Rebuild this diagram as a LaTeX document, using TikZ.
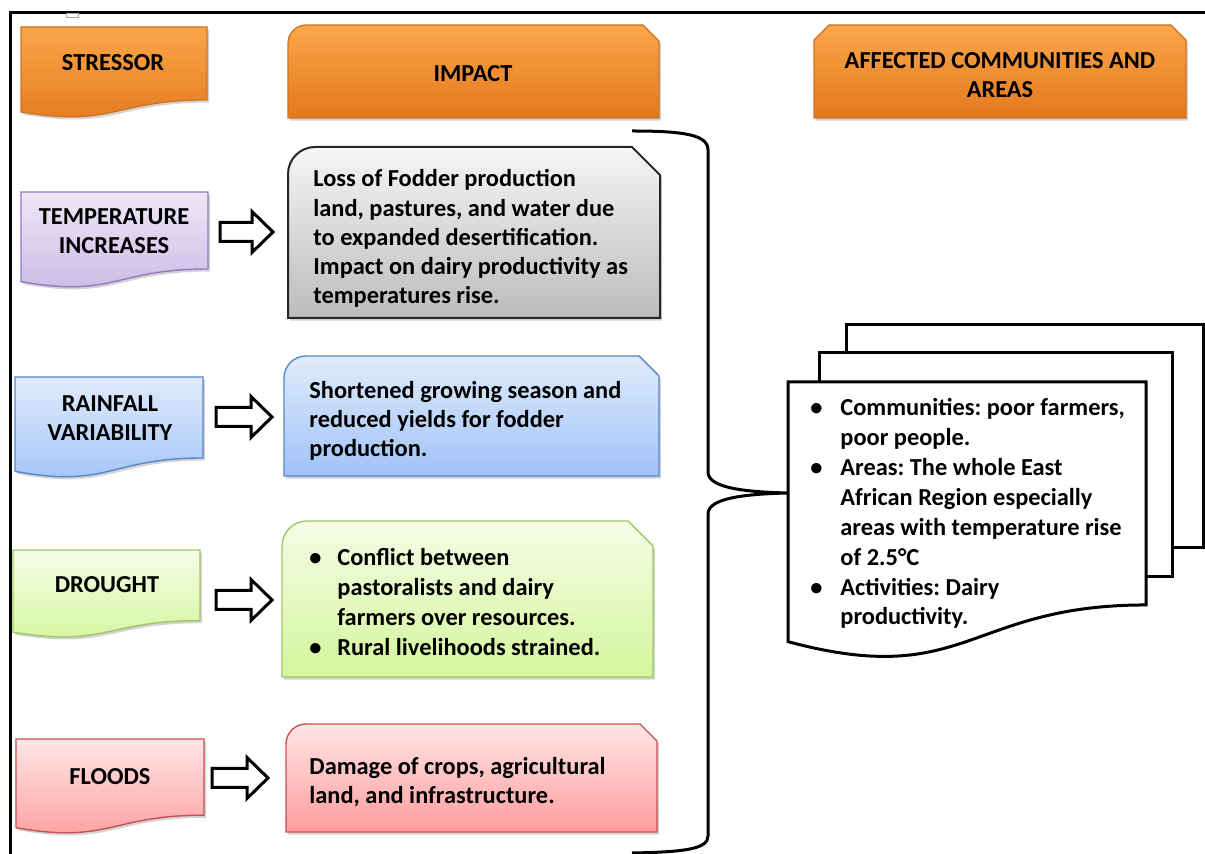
\documentclass[tikz,border=0pt]{standalone}
\usepackage{fontspec}
\setmainfont{Carlito}
\usetikzlibrary{shadows}
\frenchspacing

% fills and outlines
\definecolor{hdrTop}{RGB}{251,166,74}
\definecolor{hdrBot}{RGB}{228,120,28}
\definecolor{hdrLine}{RGB}{205,115,40}
\definecolor{purTop}{RGB}{238,232,247}
\definecolor{purBot}{RGB}{200,184,228}
\definecolor{purLine}{RGB}{150,120,190}
\definecolor{bluTop}{RGB}{224,236,252}
\definecolor{bluBot}{RGB}{160,194,248}
\definecolor{bluLine}{RGB}{85,135,205}
\definecolor{grnTop}{RGB}{245,252,230}
\definecolor{grnBot}{RGB}{212,246,156}
\definecolor{grnLine}{RGB}{160,200,100}
\definecolor{redTop}{RGB}{255,230,230}
\definecolor{redBot}{RGB}{255,156,156}
\definecolor{redLine}{RGB}{200,80,80}
\definecolor{gryTop}{RGB}{245,245,245}
\definecolor{gryBot}{RGB}{188,188,188}

% wavy-bottom document outline: left, top, right, nominal height, style
\newcommand\docshape[5]{%
  \shadedraw[#5] (#1,#2) -- (#3,#2) -- (#3,{#2+0.802*#4})
    .. controls ({(#1+#3)/2},{#2+0.802*#4}) and ({(#1+#3)/2},{#2+1.107*#4})
    .. (#1,{#2+0.934*#4}) -- cycle;}
% box with rounded top-left and snipped top-right corner
\newcommand\impshape[7]{%
  \shadedraw[#7] (#1,#4) -- (#1,{#2+#5})
    .. controls (#1,{#2+0.45*#5}) and ({#1+0.45*#5},#2) .. ({#1+#5},#2)
    -- ({#3-#6},#2) -- (#3,{#2+#6}) -- (#3,#4) -- cycle;}
% hollow block arrow: left x, tip x, centre y
\newcommand\blockarrow[3]{%
  \draw[blkarrow] (#1,{#3-9.5}) -- ({#2-21},{#3-9.5}) -- ({#2-21},{#3-20.5})
    -- (#2,#3) -- ({#2-21},{#3+20.5}) -- ({#2-21},{#3+9.5}) -- (#1,{#3+9.5}) -- cycle;}

\begin{document}
\begin{tikzpicture}[x=0.5pt,y=-0.5pt,
  shd/.style={drop shadow={shadow xshift=1pt,shadow yshift=-1.3pt,opacity=0.35}},
  hdr/.style={top color=hdrTop,bottom color=hdrBot,draw=hdrLine,line width=0.6pt,shd},
  pur/.style={top color=purTop,bottom color=purBot,draw=purLine,line width=0.7pt,shd},
  blu/.style={top color=bluTop,bottom color=bluBot,draw=bluLine,line width=0.7pt,shd},
  grn/.style={top color=grnTop,bottom color=grnBot,draw=grnLine,line width=0.7pt,shd},
  red/.style={top color=redTop,bottom color=redBot,draw=redLine,line width=0.7pt,shd},
  gry/.style={top color=gryTop,bottom color=gryBot,draw=black!85,line width=1pt,shd},
  blkarrow/.style={draw=black,fill=white,line width=1.5pt,line join=miter},
  % multi-line nodes are placed by the baseline of their last line
  txt/.style={font=\fontsize{12.2}{14.65}\selectfont\bfseries,inner sep=0pt,align=left,anchor=base west},
  ctxt/.style={font=\fontsize{12.2}{14.9}\selectfont\bfseries,inner sep=0pt,align=center,anchor=base},
  pagedoc/.style={draw=black,top color=white,bottom color=white,line width=1.5pt,line join=miter},
  brace/.style={draw=black,line width=1.5pt}]
\useasboundingbox (0,0) rectangle (1205,854);

% outer frame
\draw[line width=1.5pt] (10,856) -- (10,13) -- (1207,13);
\draw[black!35,line width=0.4pt] (66,13) rectangle (78,17);

% column headers
\docshape{21}{27}{207}{91}{hdr}
\node[ctxt] (hStress) at (113,71) {STRESSOR};
\impshape{288}{25}{659}{118}{18}{16}{hdr}
\node[ctxt] (hImpact) at (473,82) {IMPACT};
\shadedraw[hdr] (814,118) -- (814,40) -- (829,25) -- (1171,25) -- (1186,40) -- (1186,118) -- cycle;
\node[ctxt] (hAffect) at (1000,98) {AFFECTED COMMUNITIES AND\\AREAS};

% stressors
\docshape{21}{192}{208}{96}{pur}
\node[ctxt] (sTemp) at (114,254) {TEMPERATURE\\INCREASES};
\docshape{15}{377}{203}{101}{blu}
\node[ctxt] (sRain) at (110,441) {RAINFALL\\VARIABILITY};
\docshape{13}{550}{200}{88}{grn}
\node[ctxt] (sDrought) at (107,593) {DROUGHT};
\docshape{16}{739}{204}{95}{red}
\node[ctxt] (sFlood) at (110,785) {FLOODS};

% arrows from stressor to impact
\blockarrow{220}{273}{232}
\blockarrow{216}{272}{417}
\blockarrow{216}{272}{600}
\blockarrow{212}{268}{778}

% impacts
\impshape{288}{147}{660}{318}{27}{28}{gry}
\node[txt] (iTemp) at (313,304) {Loss of Fodder production\\land, pastures, and water due\\to expanded desertification.\\Impact on dairy productivity as\\temperatures rise.};
\impshape{284}{356}{659}{476}{22}{20}{blu}
\node[txt] (iRain) at (309,457) {Shortened growing season and\\reduced yields for fodder\\production.};
\impshape{282}{521}{653}{677}{25}{25}{grn}
\node[txt,font=\fontsize{12.2}{15}\selectfont\bfseries] (iDrought) at (309,656)
  {\makebox[14pt][l]{\textbullet}Conflict between\\
   \hspace*{14pt}pastoralists and dairy\\
   \hspace*{14pt}farmers over resources.\\
   \makebox[14pt][l]{\textbullet}Rural livelihoods strained.};
\impshape{286}{724}{657}{832}{20}{17}{red}
\node[txt] (iFlood) at (309,804) {Damage of crops, agricultural\\land, and infrastructure.};

% stacked pages for the affected communities
\path[pagedoc] (846,325) rectangle (1203,548);
\path[pagedoc] (819,353) rectangle (1172,577);
\docshape{788}{382}{1146}{278}{pagedoc}
\coordinate (docIn) at (788,493);
\node[txt,font=\fontsize{12.2}{14.95}\selectfont\bfseries] (aff) at (810,625)
  {\makebox[15pt][l]{\textbullet}Communities: poor farmers,\\
   \hspace*{15pt}poor people.\\
   \makebox[15pt][l]{\textbullet}Areas: The whole East\\
   \hspace*{15pt}African Region especially\\
   \hspace*{15pt}areas with temperature rise\\
   \hspace*{15pt}of 2.5°C\\
   \makebox[15pt][l]{\textbullet}Activities: Dairy\\
   \hspace*{15pt}productivity.};

% brace gathering the impacts
\coordinate (brTop) at (632,131);
\coordinate (brBot) at (632,853);
\draw[brace] (brTop) .. controls (685,131) and (708,135) .. (708,150)
  -- (708,472) .. controls (708,488) and (745,492) .. (docIn)
  .. controls (745,494) and (708,498) .. (708,514)
  -- (708,836) .. controls (708,849) and (685,852) .. (brBot);
\end{tikzpicture}
\end{document}
